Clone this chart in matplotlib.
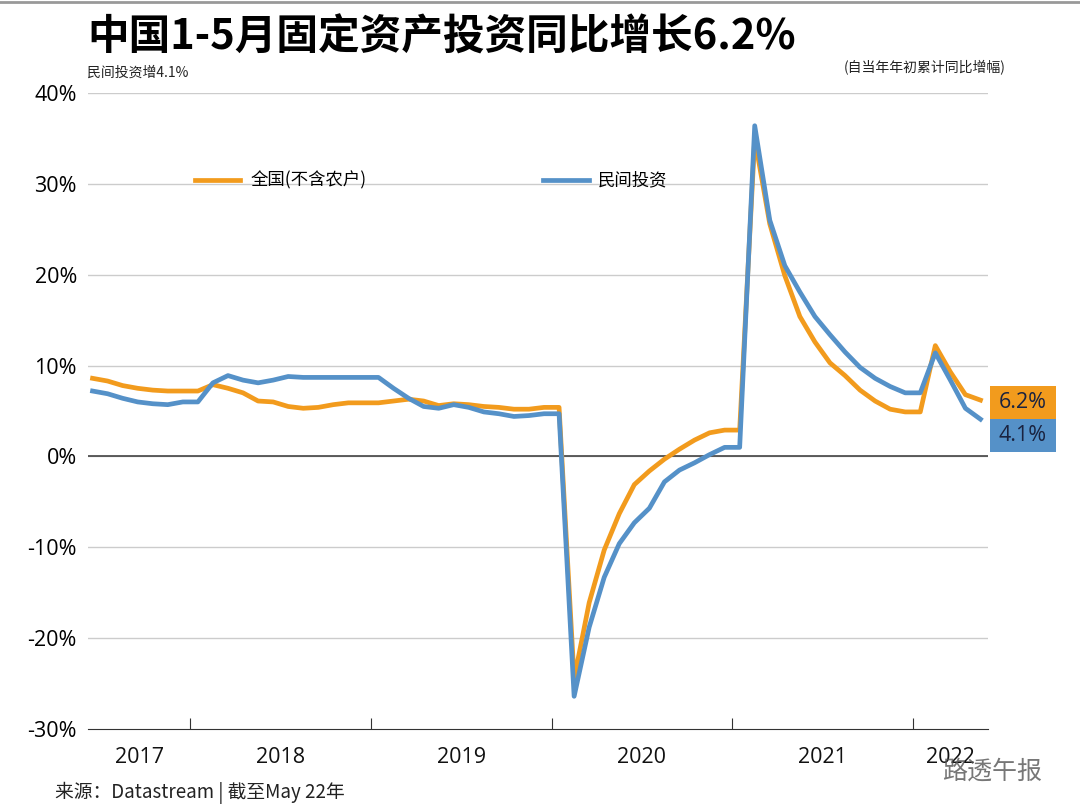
import numpy as np
import matplotlib.pyplot as plt
from matplotlib.lines import Line2D
from matplotlib.patches import Rectangle

plt.rcParams['font.family'] = ['Noto Sans CJK SC', 'DejaVu Sans']

# 月度数据：2017年6月 - 2022年5月（1月沿用上年12月累计值）
national = [8.6, 8.3, 7.8, 7.5, 7.3, 7.2, 7.2,
            7.2, 7.9, 7.5, 7.0, 6.1, 6.0, 5.5, 5.3, 5.4, 5.7, 5.9, 5.9,
            5.9, 6.1, 6.3, 6.1, 5.6, 5.8, 5.7, 5.5, 5.4, 5.2, 5.2, 5.4,
            5.4, -24.5, -16.1, -10.3, -6.3, -3.1, -1.6, -0.3, 0.8, 1.8, 2.6, 2.9,
            2.9, 35.0, 25.6, 19.9, 15.4, 12.6, 10.3, 8.9, 7.3, 6.1, 5.2, 4.9,
            4.9, 12.2, 9.3, 6.8, 6.2]
private = [7.2, 6.9, 6.4, 6.0, 5.8, 5.7, 6.0,
           6.0, 8.1, 8.9, 8.4, 8.1, 8.4, 8.8, 8.7, 8.7, 8.7, 8.7, 8.7,
           8.7, 7.5, 6.4, 5.5, 5.3, 5.7, 5.4, 4.9, 4.7, 4.4, 4.5, 4.7,
           4.7, -26.4, -18.8, -13.3, -9.6, -7.3, -5.7, -2.8, -1.5, -0.7, 0.2, 1.0,
           1.0, 36.4, 26.0, 21.0, 18.1, 15.4, 13.4, 11.5, 9.8, 8.6, 7.7, 7.0,
           7.0, 11.4, 8.4, 5.3, 4.1]
years = ['2017', '2018', '2019', '2020', '2021', '2022']
yticks = [-30, -20, -10, 0, 10, 20, 30, 40]
end_labels = ['6.2%', '4.1%']

orange = '#F29B1D'
blue = '#5591C8'

fig = plt.figure(figsize=(10.8, 8.11), dpi=100)
ax = fig.add_axes([0.0815, 0.1011, 0.8333, 0.7842])

x = np.arange(len(national))
ax.plot(x, national, color=orange, lw=3.4, solid_joinstyle='round', zorder=3)
ax.plot(x, private, color=blue, lw=3.4, solid_joinstyle='round', zorder=4)

ax.set_xlim(-0.3, len(national) - 0.5)
ax.set_ylim(-30, 40)
ax.set_yticks(yticks)
ax.set_yticklabels([f'{v}%' for v in yticks], fontsize=15.5, family='Open Sans')
for v in yticks[1:]:
    ax.axhline(v, color='#cccccc', lw=1, zorder=1)
ax.axhline(0, color='#444444', lw=1.2, zorder=2)

for s in ['top', 'right', 'left']:
    ax.spines[s].set_visible(False)
ax.spines['bottom'].set_color('#333333')
ax.tick_params(axis='y', length=0, pad=8)

# 年份分隔刻度与标签
bounds = [6.5, 18.5, 30.5, 42.5, 54.5]
ax.set_xticks(bounds)
ax.set_xticklabels([])
ax.tick_params(axis='x', direction='in', length=8, color='#333333')
edges = [ax.get_xlim()[0]] + bounds + [ax.get_xlim()[1]]
for i, yr in enumerate(years):
    ax.text((edges[i] + edges[i + 1]) / 2, -33.1, yr, ha='center', va='center',
            fontsize=15.5, family='Open Sans', color='#111111')

# 图例
ax.plot([6.8, 9.8], [30.4, 30.4], color=orange, lw=3.4)
ax.text(10.5, 30.4, '全国(不含农户)', fontsize=12.5, va='center')
ax.plot([29.9, 33.0], [30.4, 30.4], color=blue, lw=3.4)
ax.text(33.6, 30.4, '民间投资', fontsize=12.5, va='center')

# 末值标签
W, H = 1080, 811
for (top, col, lab) in [(386, orange, end_labels[0]), (419, blue, end_labels[1])]:
    fig.add_artist(Rectangle((990 / W, 1 - (top + 33) / H), 66 / W, 33 / H,
                             transform=fig.transFigure, fc=col, ec='none'))
    fig.text(1023 / W, 1 - (top + 16.5) / H, lab, ha='center', va='center',
             fontsize=15.5, family='Open Sans', color='#1a2340')

# 标题与注释
fig.text(0.081, 0.954, '中国1-5月固定资产投资同比增长6.2%', fontsize=30,
         fontweight='bold', va='center', ha='left')
fig.text(0.081, 0.91, '民间投资增4.1%', fontsize=10, va='center', ha='left', color='#222222')
fig.text(0.931, 0.917, '(自当年年初累计同比增幅)', fontsize=10, va='center', ha='right',
         style='italic', color='#222222')
fig.text(0.051, 0.022, '来源：Datastream | 截至May 22年', fontsize=13.5, va='center',
         ha='left', color='#222222')
fig.text(0.872, 0.048, '路透午报', fontsize=18, va='center', ha='left',
         color='#555555', alpha=0.8)
fig.add_artist(Line2D([0, 1], [0.998, 0.998], color='#999999', lw=2))

fig.savefig('out.png', dpi=100)
